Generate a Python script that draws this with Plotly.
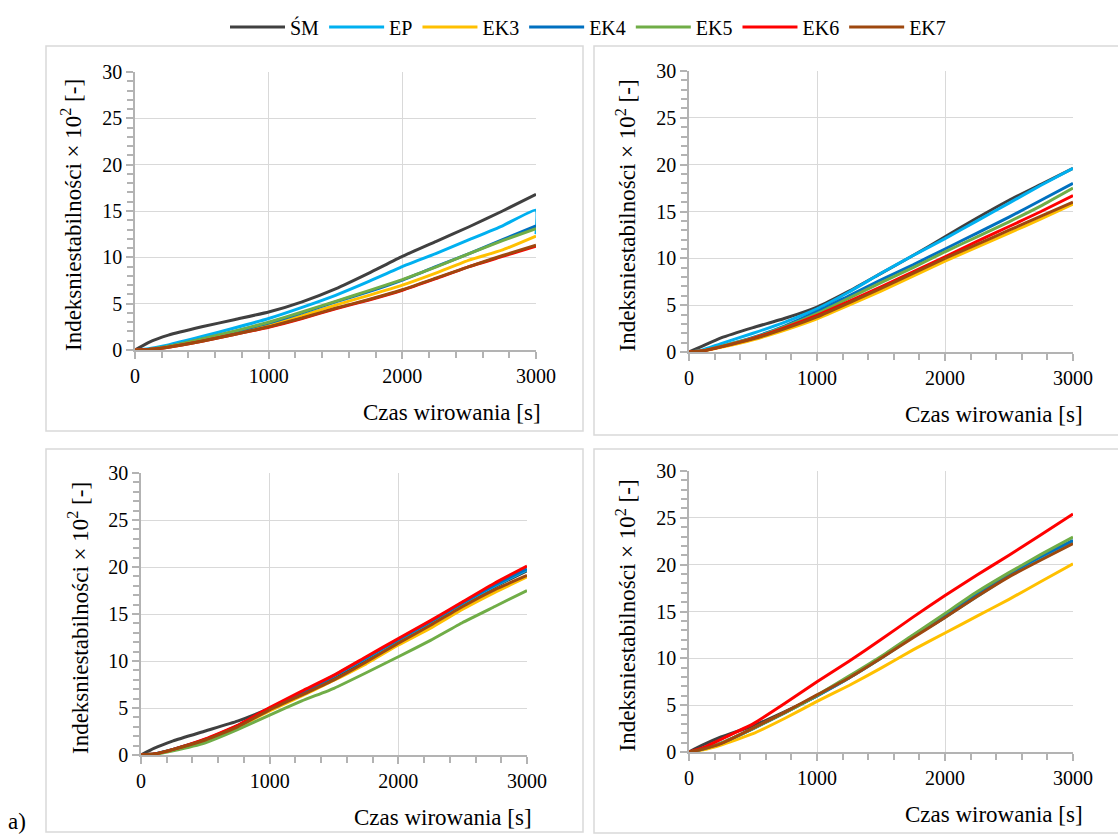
import plotly.graph_objects as go

W, H = 1118, 834

# Sampling times [s]
czas = [0, 100, 250, 500, 750, 1000, 1250, 1500, 1750, 2000, 2250, 2500, 2750, 3000]

serie = ["ŚM", "EP", "EK3", "EK4", "EK5", "EK6", "EK7"]
kolory = ["#404040", "#00b0f0", "#ffc000", "#0070c0", "#70ad47", "#ff0000", "#9e480e"]

# Panel 1
p1_SM = [0, 0.8, 1.6, 2.5, 3.3, 4.1, 5.2, 6.6, 8.3, 10.1, 11.7, 13.3, 15.0, 16.8]
p1_EP = [0, 0.15, 0.55, 1.45, 2.4, 3.4, 4.6, 5.9, 7.4, 9.0, 10.4, 11.9, 13.4, 15.1, 12.5]
p1_EK3 = [0, 0.05, 0.35, 1.05, 1.85, 2.7, 3.7, 4.85, 5.9, 7.0, 8.3, 9.7, 10.8, 12.3]
p1_EK4 = [0, 0.05, 0.4, 1.15, 2.0, 2.9, 4.0, 5.2, 6.3, 7.55, 9.0, 10.4, 11.9, 13.4]
p1_EK5 = [0, 0.05, 0.4, 1.2, 2.05, 3.0, 4.1, 5.25, 6.4, 7.6, 8.95, 10.4, 11.8, 13.1]
p1_EK6 = [0, 0.05, 0.3, 0.95, 1.7, 2.45, 3.4, 4.45, 5.4, 6.45, 7.7, 9.0, 10.1, 11.2]
p1_EK7 = [0, 0.05, 0.3, 0.95, 1.7, 2.5, 3.45, 4.5, 5.45, 6.5, 7.75, 9.0, 10.2, 11.3]

# Panel 2
p2_SM = [0, 0.6, 1.5, 2.6, 3.6, 4.8, 6.5, 8.4, 10.3, 12.3, 14.3, 16.2, 17.9, 19.6]
p2_EP = [0, 0.2, 0.9, 2.0, 3.2, 4.6, 6.4, 8.4, 10.3, 12.1, 14.0, 15.9, 17.8, 19.6]
p2_EK3 = [0, 0.1, 0.5, 1.3, 2.35, 3.55, 5.0, 6.5, 8.1, 9.7, 11.2, 12.7, 14.2, 15.8]
p2_EK4 = [0, 0.1, 0.6, 1.55, 2.8, 4.3, 6.0, 7.7, 9.3, 11.0, 12.7, 14.4, 16.2, 18.0]
p2_EK5 = [0, 0.1, 0.6, 1.5, 2.7, 4.1, 5.75, 7.4, 9.0, 10.7, 12.3, 13.9, 15.6, 17.5]
p2_EK6 = [0, 0.1, 0.55, 1.45, 2.6, 3.9, 5.4, 6.95, 8.55, 10.15, 11.8, 13.4, 15.0, 16.7]
p2_EK7 = [0, 0.1, 0.55, 1.4, 2.5, 3.75, 5.25, 6.8, 8.4, 10.0, 11.5, 13.0, 14.5, 16.0]

# Panel 3
p3_SM = [0, 0.7, 1.5, 2.55, 3.6, 4.95, 6.5, 8.1, 10.2, 12.2, 14.0, 16.0, 17.9, 19.6]
p3_EP = [0, 0.1, 0.6, 1.65, 3.1, 4.9, 6.6, 8.4, 10.3, 12.2, 14.1, 16.1, 18.0, 19.7]
p3_EK3 = [0, 0.1, 0.55, 1.55, 2.95, 4.7, 6.3, 7.95, 9.7, 11.7, 13.5, 15.5, 17.3, 18.95]
p3_EK4 = [0, 0.1, 0.6, 1.65, 3.1, 4.95, 6.6, 8.45, 10.35, 12.3, 14.2, 16.2, 18.1, 19.8]
p3_EK5 = [0, 0.05, 0.45, 1.3, 2.7, 4.25, 5.75, 7.1, 8.75, 10.45, 12.2, 14.1, 15.8, 17.5]
p3_EK6 = [0, 0.1, 0.6, 1.7, 3.15, 5.05, 6.8, 8.5, 10.45, 12.4, 14.3, 16.3, 18.3, 20.1]
p3_EK7 = [0, 0.1, 0.6, 1.6, 3.0, 4.8, 6.4, 8.0, 9.9, 11.9, 13.8, 15.8, 17.6, 19.1]

# Panel 4
p4_SM = [0, 0.7, 1.6, 2.8, 4.3, 6.0, 7.9, 10.05, 12.3, 14.4, 16.7, 18.9, 20.7, 22.4]
p4_EP = [0, 0.3, 0.9, 2.5, 4.2, 6.0, 7.9, 10.0, 12.3, 14.4, 16.6, 18.8, 20.6, 22.3]
p4_EK3 = [0, 0.2, 0.75, 1.95, 3.6, 5.4, 7.1, 8.95, 10.9, 12.7, 14.5, 16.3, 18.2, 20.1]
p4_EK4 = [0, 0.3, 0.95, 2.5, 4.2, 6.0, 8.0, 10.1, 12.4, 14.6, 16.9, 19.0, 20.9, 22.6]
p4_EK5 = [0, 0.3, 0.95, 2.5, 4.2, 6.05, 8.1, 10.2, 12.5, 14.8, 17.1, 19.15, 21.1, 22.95]
p4_EK6 = [0, 0.4, 1.35, 3.0, 5.2, 7.5, 9.7, 12.0, 14.4, 16.7, 18.9, 21.0, 23.2, 25.4]
p4_EK7 = [0, 0.3, 0.9, 2.55, 4.25, 6.1, 7.9, 10.0, 12.2, 14.35, 16.6, 18.7, 20.5, 22.25]

panele = [
    [p1_SM, p1_EP, p1_EK3, p1_EK4, p1_EK5, p1_EK6, p1_EK7],
    [p2_SM, p2_EP, p2_EK3, p2_EK4, p2_EK5, p2_EK6, p2_EK7],
    [p3_SM, p3_EP, p3_EK3, p3_EK4, p3_EK5, p3_EK6, p3_EK7],
    [p4_SM, p4_EP, p4_EK3, p4_EK4, p4_EK5, p4_EK6, p4_EK7],
]

# Plot areas in pixels: (left, right, top, bottom)
obszary = [(135, 536, 72, 350), (689, 1073, 71, 352), (141, 527, 473, 755), (689, 1073, 471, 752)]
# Panel frames in pixels: (left, right, top, bottom)
ramki = [(46, 583, 46, 431), (594, 1122, 46, 435), (46, 583, 449, 832), (594, 1122, 449, 833)]

FONT = "Liberation Serif"
GRID = "#d9d9d9"
AXIS = "#b3b3b3"

fig = go.Figure()
layout = dict(
    width=W, height=H,
    margin=dict(l=0, r=0, t=0, b=0, autoexpand=False),
    paper_bgcolor="white", plot_bgcolor="white",
    font=dict(family=FONT, size=20, color="#000000"),
    showlegend=True,
    legend=dict(orientation="h", x=588 / W, xanchor="center", y=1 - 27 / H, yanchor="middle",
                font=dict(family=FONT, size=20, color="#000000"),
                itemwidth=55, tracegroupgap=0, bgcolor="rgba(0,0,0,0)"),
)

shapes = []
annotations = []
for i, dane in enumerate(panele):
    n = i + 1
    xa = "x" if n == 1 else f"x{n}"
    ya = "y" if n == 1 else f"y{n}"
    for j, (nazwa, kolor) in enumerate(zip(serie, kolory)):
        ys = dane[j]
        xs = czas + [czas[-1]] * (len(ys) - len(czas))
        fig.add_trace(go.Scatter(
            x=xs, y=ys, mode="lines", name=nazwa,
            line=dict(color=kolor, width=3, shape="spline", smoothing=0.4),
            xaxis=xa, yaxis=ya, showlegend=(i == 0), legendgroup=nazwa,
        ))
    l, r, t, b = obszary[i]
    xkey = "xaxis" if n == 1 else f"xaxis{n}"
    ykey = "yaxis" if n == 1 else f"yaxis{n}"
    layout[xkey] = dict(
        domain=[l / W, r / W], anchor=ya, range=[0, 3000],
        tickmode="linear", tick0=0, dtick=1000,
        showgrid=True, gridcolor=GRID, gridwidth=1,
        showline=True, linecolor=AXIS, linewidth=1.5, zeroline=False,
        ticks="outside", ticklen=7, tickcolor=AXIS, tickwidth=1.5,
        tickfont=dict(family=FONT, size=20, color="#000000"),
        minor=dict(tick0=0, dtick=200, ticks="outside", ticklen=6,
                   tickcolor=AXIS, tickwidth=1.5, showgrid=False),
        fixedrange=True,
    )
    layout[ykey] = dict(
        domain=[1 - b / H, 1 - t / H], anchor=xa, range=[0, 30],
        tickmode="linear", tick0=0, dtick=5,
        showgrid=True, gridcolor=GRID, gridwidth=1,
        showline=True, linecolor=AXIS, linewidth=1.5, zeroline=False,
        ticks="outside", ticklen=7, tickcolor=AXIS, tickwidth=1.5,
        tickfont=dict(family=FONT, size=20, color="#000000"),
        minor=dict(tick0=0, dtick=1, ticks="outside", ticklen=6,
                   tickcolor=AXIS, tickwidth=1.5, showgrid=False),
        fixedrange=True,
    )
    fl, fr, ft, fb = ramki[i]
    shapes.append(dict(type="rect", xref="paper", yref="paper",
                       x0=fl / W, x1=fr / W, y0=1 - fb / H, y1=1 - ft / H,
                       line=dict(color=GRID, width=1.5), fillcolor="rgba(0,0,0,0)", layer="below"))
    # axis titles
    annotations.append(dict(
        text="Indeksniestabilności × 10<sup>2</sup> [-]", textangle=-90,
        xref="paper", yref="paper", x=(l - 63) / W, y=1 - ((t + b) / 2 + 4) / H,
        xanchor="center", yanchor="middle", showarrow=False,
        font=dict(family=FONT, size=23, color="#000000"),
    ))
    annotations.append(dict(
        text="Czas wirowania [s]", xref="paper", yref="paper",
        x=(r + 7) / W if i % 2 == 0 else (r + 12) / W, y=1 - (b + 62) / H,
        xanchor="right", yanchor="middle", showarrow=False,
        font=dict(family=FONT, size=23, color="#000000"),
    ))

annotations.append(dict(text="a)", xref="paper", yref="paper", x=6 / W, y=1 - 821 / H,
                        xanchor="left", yanchor="middle", showarrow=False,
                        font=dict(family=FONT, size=23, color="#000000")))

layout["shapes"] = shapes
layout["annotations"] = annotations
fig.update_layout(**layout)
fig.write_html("out.html")
